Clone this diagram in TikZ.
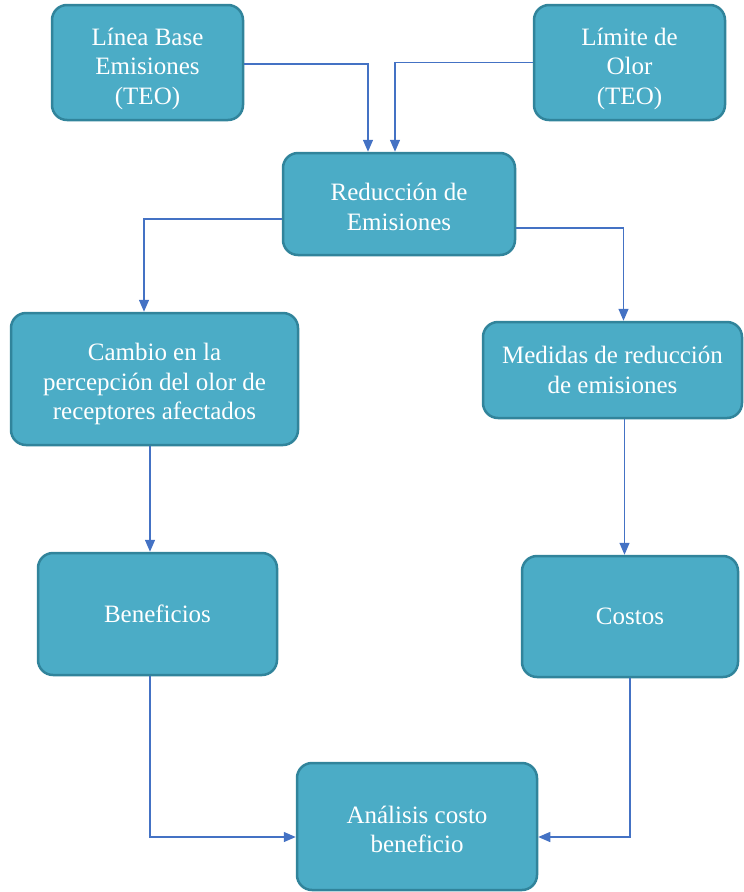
\documentclass[tikz,border=0pt]{standalone}
\usepackage{fontspec}
\setmainfont{Liberation Serif}
\newfontfamily\boxfont{Liberation Serif}
\usetikzlibrary{arrows.meta}
\definecolor{boxfill}{HTML}{4BACC6}
\definecolor{boxline}{HTML}{31849B}
\definecolor{arrowc}{HTML}{4472C4}
\tikzset{
  flowbox/.style={rectangle, rounded corners=15pt, fill=boxfill, draw=boxline,
    line width=2.5pt, text=white, align=center, inner sep=0pt,
    font=\boxfont\fontsize{25pt}{29.5pt}\selectfont},
  arr/.style={draw=arrowc, line width=1.4pt,
    -{Triangle[width=10pt,length=12pt]}, fill=none}
}
\begin{document}
\begin{tikzpicture}[x=1pt,y=-1pt]
\useasboundingbox (0,0) rectangle (744,892);
\node[flowbox, minimum width=191pt, minimum height=115pt] (b1) at (147.5,62.5) {\rule{0pt}{30pt}Línea Base\\Emisiones\\(TEO)};
\node[flowbox, minimum width=191pt, minimum height=115pt] (b2) at (629.5,62.5) {\rule{0pt}{30pt}Límite de\\Olor\\(TEO)};
\node[flowbox, minimum width=232pt, minimum height=102pt] (b3) at (399,204) {\rule{0pt}{23pt}Reducción de\\Emisiones};
\node[flowbox, minimum width=287pt, minimum height=132pt] (b4) at (154.5,379) {\rule{0pt}{28pt}Cambio en la\\percepción del olor de\\receptores afectados};
\node[flowbox, minimum width=259pt, minimum height=96pt] (b5) at (612.5,370) {Medidas de reducción\\de emisiones};
\node[flowbox, minimum width=239pt, minimum height=122pt] (b6) at (157.5,614) {Beneficios};
\node[flowbox, minimum width=216pt, minimum height=121pt] (b7) at (630,616.5) {Costos};
\node[flowbox, minimum width=240pt, minimum height=127pt] (b8) at (417,826.5) {\rule{0pt}{23pt}Análisis costo\\beneficio};

\draw[arr] ([yshift=-1.5pt]b1.east) -| ([xshift=-31pt]b3.north);
\draw[arr] (b2.west) -| ([xshift=-4pt]b3.north);
\draw[arr] ([yshift=-15pt]b3.west) -| ([xshift=-10.5pt]b4.north);
\draw[arr] ([yshift=-24pt]b3.east) -| ([xshift=11pt]b5.north);
\draw[arr] ([xshift=-4.5pt]b4.south) -- ([xshift=-4.5pt]b4.south |- b6.north);
\draw[arr] ([xshift=12pt]b5.south) -- ([xshift=12pt]b5.south |- b7.north);
\draw[arr] ([xshift=-7.5pt]b6.south) |- ([yshift=-10.5pt]b8.west);
\draw[arr] (b7.south) |- ([yshift=-10.5pt]b8.east);
\end{tikzpicture}
\end{document}
